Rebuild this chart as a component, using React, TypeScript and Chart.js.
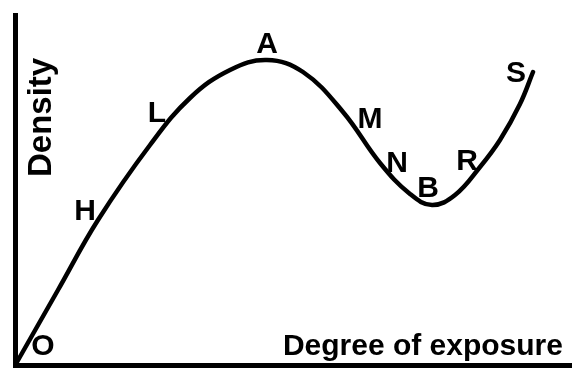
import React, { useEffect, useRef } from 'react';
import { Chart, registerables } from 'chart.js';

Chart.register(...registerables);

// Curve: degree of exposure (x) vs density (y), arbitrary units 0..100
const exposure = [0.36, 7.72, 14.9, 24.24, 31.42, 38.6, 45.24, 51.71, 58.89, 65.53, 70.92, 74.87, 79.0, 83.48, 87.07, 90.66, 93.0];
const density = [0.86, 21.43, 41.43, 62.86, 76.29, 84.29, 87.14, 83.71, 72.29, 57.71, 48.86, 45.71, 48.57, 56.57, 64.29, 74.57, 83.71];

// Letter labels along the curve (baseline positions, in data units)
const pointLabels = ['O', 'H', 'L', 'A', 'M', 'N', 'B', 'R', 'S'];
const labelX = [5.03, 12.57, 25.49, 45.24, 63.73, 68.58, 74.15, 81.15, 89.95];
const labelY = [2.86, 41.43, 69.43, 89.14, 67.71, 55.14, 48.0, 55.71, 80.86];

const xTitle = 'Degree of exposure';
const xTitlePos = [98.38, 2.86];
const yTitle = 'Density';
const yTitlePos = [6.46, 53.71];

const labelPlugin = {
  id: 'letterLabels',
  afterDatasetsDraw(chart: any) {
    const { ctx, scales } = chart;
    const xs = scales.x;
    const ys = scales.y;
    ctx.save();
    ctx.fillStyle = '#000';
    ctx.textBaseline = 'alphabetic';
    ctx.font = 'bold 30px "Liberation Sans", Arial, sans-serif';
    ctx.textAlign = 'center';
    pointLabels.forEach((t, i) => {
      ctx.fillText(t, xs.getPixelForValue(labelX[i]), ys.getPixelForValue(labelY[i]));
    });
    ctx.textAlign = 'right';
    ctx.fillText(xTitle, xs.getPixelForValue(xTitlePos[0]), ys.getPixelForValue(xTitlePos[1]));
    ctx.save();
    ctx.translate(xs.getPixelForValue(yTitlePos[0]), ys.getPixelForValue(yTitlePos[1]));
    ctx.rotate(-Math.PI / 2);
    ctx.textAlign = 'left';
    ctx.font = 'bold 33px "Liberation Sans", Arial, sans-serif';
    ctx.fillText(yTitle, 0, 0);
    ctx.restore();
    ctx.restore();
  },
};

export default function App() {
  const ref = useRef<HTMLCanvasElement | null>(null);
  useEffect(() => {
    if (!ref.current) return;
    const chart = new Chart(ref.current, {
      type: 'scatter',
      data: {
        datasets: [
          {
            data: exposure.map((x, i) => ({ x, y: density[i] })),
            showLine: true,
            borderColor: '#000',
            borderWidth: 4.5,
            borderCapStyle: 'round',
            borderJoinStyle: 'round',
            pointRadius: 0,
            tension: 0.4,
            fill: false,
          } as any,
        ],
      },
      options: {
        responsive: false,
        animation: false,
        layout: { padding: { left: 15, top: 15, right: 0, bottom: 5 } },
        plugins: { legend: { display: false }, tooltip: { enabled: false } },
        scales: {
          x: {
            type: 'linear',
            min: 0,
            max: 100,
            ticks: { display: false },
            grid: { display: false, drawTicks: false },
            border: { display: true, color: '#000', width: 5 },
          },
          y: {
            type: 'linear',
            min: 0,
            max: 100,
            ticks: { display: false },
            grid: { display: false, drawTicks: false },
            border: { display: true, color: '#000', width: 5 },
          },
        },
      },
      plugins: [labelPlugin],
    });
    return () => chart.destroy();
  }, []);
  return (
    <div style={{ position: 'absolute', left: 0, top: 0, width: 572, height: 370, background: '#fff' }}>
      <canvas ref={ref} width={572} height={370} />
    </div>
  );
}
